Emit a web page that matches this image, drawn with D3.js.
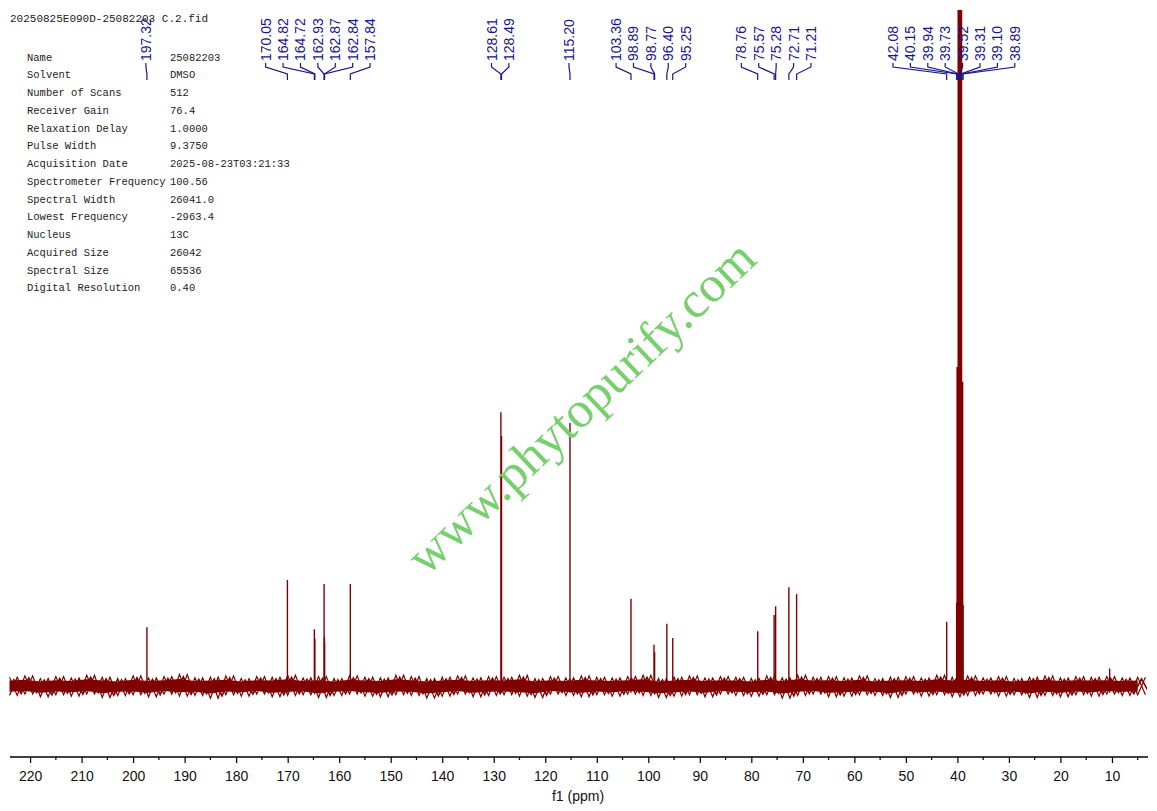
<!DOCTYPE html>
<html>
<head>
<meta charset="utf-8">
<script src="https://cdn.jsdelivr.net/npm/d3@7"></script>
<style>
  html, body { margin: 0; padding: 0; background: #fff; }
  svg { display: block; }
</style>
</head>
<body>
<svg id="chart" width="1157" height="811"></svg>
<script>
// ---------------- data ----------------
const titleText = "20250825E090D-25082203 C.2.fid";
const paramNames = ["Name", "Solvent", "Number of Scans", "Receiver Gain", "Relaxation Delay",
  "Pulse Width", "Acquisition Date", "Spectrometer Frequency", "Spectral Width",
  "Lowest Frequency", "Nucleus", "Acquired Size", "Spectral Size", "Digital Resolution"];
const paramValues = ["25082203", "DMSO", "512", "76.4", "1.0000", "9.3750",
  "2025-08-23T03:21:33", "100.56", "26041.0", "-2963.4", "13C", "26042", "65536", "0.40"];

// peak positions (ppm) and intensities (arbitrary units)
const peakPpm = [197.32, 170.05, 164.82, 164.72, 162.93, 162.87, 162.84, 157.84,
  128.61, 128.49, 115.20, 103.36, 98.89, 98.77, 96.40, 95.25,
  78.76, 75.57, 75.28, 72.71, 71.21, 42.08,
  40.15, 39.94, 39.73, 39.52, 39.31, 39.10, 38.89, 10.45];
const peakHeight = [8.7, 15.7, 8.4, 7.0, 15.1, 7.2, 6.5, 15.1,
  40.5, 37.0, 38.9, 12.9, 6.1, 5.0, 9.2, 7.1,
  8.1, 10.5, 11.8, 14.6, 13.6, 9.5,
  12.3, 47.2, 150, 170, 150, 45, 12.0, 2.6];

// labelled peaks (ppm)
const labelPpm = [197.32, 170.05, 164.82, 164.72, 162.93, 162.87, 162.84, 157.84,
  128.61, 128.49, 115.20, 103.36, 98.89, 98.77, 96.40, 95.25,
  78.76, 75.57, 75.28, 72.71, 71.21,
  42.08, 40.15, 39.94, 39.73, 39.52, 39.31, 39.10, 38.89];

// baseline noise envelope (upper / lower), read roughly every 3 ppm from 224 ppm
const noiseHi = [1.3,1.5,1.1,1.4,1.2,1.6,1.3,1.1,1.5,1.2,1.4,1.7,1.2,1.3,1.5,1.1,1.4,1.3,1.6,1.2,
  1.4,1.1,1.5,1.3,1.2,1.6,1.4,1.1,1.3,1.5,1.2,1.4,1.3,1.6,1.1,1.4,1.2,1.5,1.3,1.2,
  1.4,1.6,1.1,1.3,1.5,1.2,1.4,1.3,1.1,1.5,1.2,1.6,1.3,1.4,1.2,1.5,1.1,1.3,1.4,1.2,
  1.6,1.3,1.5,1.2,1.4,1.1,1.3,1.5,1.2,1.4,1.3,1.4,1.2,1.3];
const noiseLo = [-1.4,-1.2,-1.6,-1.3,-1.5,-1.2,-1.7,-1.4,-1.3,-1.6,-1.2,-1.5,-1.4,-1.8,-1.3,-1.5,-1.2,-1.6,-1.4,-1.3,
  -1.7,-1.4,-1.2,-1.5,-1.6,-1.3,-1.4,-1.8,-1.5,-1.2,-1.6,-1.4,-1.3,-1.5,-1.7,-1.2,-1.4,-1.6,-1.3,-1.5,
  -1.2,-1.4,-1.7,-1.5,-1.3,-1.6,-1.2,-1.4,-1.5,-1.3,-1.8,-1.4,-1.2,-1.6,-1.5,-1.3,-1.4,-1.7,-1.2,-1.5,
  -1.3,-1.6,-1.4,-1.2,-1.5,-1.3,-1.7,-1.4,-1.6,-1.3,-1.5,-1.2,-1.4,-1.3];

const tickMajor = [220,210,200,190,180,170,160,150,140,130,120,110,100,90,80,70,60,50,40,30,20,10];
const axisLabel = "f1 (ppm)";
const watermark = "www.phytopurify.com";

// ---------------- drawing ----------------
const svg = d3.select("#chart");
const W = 1157, H = 811;
svg.append("rect").attr("width", W).attr("height", H).attr("fill", "#fff");

const x = d3.scaleLinear().domain([223.9, 3.0]).range([10, 1148]);
const y = d3.scaleLinear().domain([0, 100]).range([686, 10]);
const specColor = "#800000";
const labelColor = "#16168e";

svg.append("defs").append("clipPath").attr("id", "plotclip")
  .append("rect").attr("x", 9).attr("y", 10).attr("width", 1138).attr("height", 740);

const plot = svg.append("g").attr("clip-path", "url(#plotclip)");

// noise: solid core band plus zig-zag fringe between the envelope readings
const noisePpm = d3.range(224, 2, -3);
const noiseData = noisePpm.map((p, i) => ({p, hi: noiseHi[i], lo: noiseLo[i]}));
plot.append("path")
  .datum(noiseData)
  .attr("d", d3.area().x(d => x(d.p)).y0(d => y(d.lo * 0.62)).y1(d => y(d.hi * 0.62)))
  .attr("fill", specColor);
const zigA = [], zigB = [], zigC = [];
noiseData.forEach((d, i) => {
  zigA.push([x(d.p), y(d.hi)], [x(d.p - 1.5), y(d.lo)]);
  zigB.push([x(d.p), y(d.lo)], [x(d.p - 1.5), y(d.hi)]);
  zigC.push([x(d.p - 0.75), y(d.hi * 0.8)], [x(d.p - 2.25), y(d.lo * 0.8)]);
});
[zigA, zigB, zigC].forEach((z, k) => {
  plot.append("path")
    .attr("d", d3.line()(z))
    .attr("fill", "none")
    .attr("stroke", specColor)
    .attr("stroke-width", k === 2 ? 1.6 : 1.2)
    .attr("stroke-linejoin", "miter");
});

// peaks
const peaks = peakPpm.map((p, i) => ({p, h: peakHeight[i]}));
plot.selectAll("line.peak").data(peaks).join("line")
  .attr("class", "peak")
  .attr("x1", d => x(d.p)).attr("x2", d => x(d.p))
  .attr("y1", y(-1)).attr("y2", d => y(d.h))
  .attr("stroke", specColor)
  .attr("stroke-width", d => d.h > 40 && d.p < 41 ? 2.6 : 1.4);

// watermark
svg.append("text")
  .attr("transform", "translate(581,407) rotate(-43.5)")
  .attr("text-anchor", "middle")
  .attr("dominant-baseline", "central")
  .attr("font-family", "'Liberation Serif', 'Times New Roman', serif")
  .attr("font-size", 51)
  .attr("fill", "#78cf6e")
  .text(watermark);

// x axis
const axisY = 757;
const axisG = svg.append("g").attr("transform", `translate(0,${axisY})`);
axisG.append("line").attr("x1", x.range()[0]).attr("x2", x.range()[1])
  .attr("y1", 0).attr("y2", 0).attr("stroke", "#000").attr("stroke-width", 1.3);
const axis = d3.axisBottom(x).tickValues(tickMajor).tickSize(6).tickFormat(d3.format("d"));
const ag = axisG.append("g").call(axis);
ag.select(".domain").remove();
ag.selectAll(".tick line").attr("stroke", "#000").attr("stroke-width", 1.2);
ag.selectAll(".tick text")
  .attr("font-family", "'Liberation Sans', Arial, sans-serif")
  .attr("font-size", 14).attr("fill", "#111").attr("dy", "1.1em");
const minor = d3.range(215, 4, -10);
axisG.selectAll("line.minor").data(minor).join("line")
  .attr("class", "minor")
  .attr("x1", d => x(d)).attr("x2", d => x(d))
  .attr("y1", 0).attr("y2", 3).attr("stroke", "#000").attr("stroke-width", 1.2);
svg.append("text").attr("x", 578).attr("y", 801)
  .attr("text-anchor", "middle")
  .attr("font-family", "'Liberation Sans', Arial, sans-serif")
  .attr("font-size", 14).attr("fill", "#111").text(axisLabel);

// title and parameter table
const monoFont = "'Liberation Mono', 'DejaVu Sans Mono', monospace";
svg.append("text").attr("x", 10).attr("y", 22)
  .attr("font-family", monoFont).attr("font-size", 11).attr("fill", "#222")
  .text(titleText);
const tbl = svg.append("g");
tbl.selectAll("text.pn").data(paramNames).join("text")
  .attr("class", "pn").attr("x", 27).attr("y", (d, i) => 60.5 + i * 17.75)
  .attr("font-family", monoFont).attr("font-size", 10.5).attr("fill", "#222").text(d => d);
tbl.selectAll("text.pv").data(paramValues).join("text")
  .attr("class", "pv").attr("x", 170).attr("y", (d, i) => 60.5 + i * 17.75)
  .attr("font-family", monoFont).attr("font-size", 10.5).attr("fill", "#222").text(d => d);

// peak labels: cluster, then spread evenly around the cluster midpoint
const spacing = 17.4;
const lab = labelPpm.map(p => ({p, px: x(p)})).sort((a, b) => a.px - b.px);
const groups = [];
lab.forEach(l => {
  const g = groups[groups.length - 1];
  if (g && l.px - g[g.length - 1].px < 40) g.push(l); else groups.push([l]);
});
groups.forEach(g => {
  const mid = (g[0].px + g[g.length - 1].px) / 2 - 1;
  g.forEach((l, i) => { l.lx = mid + (i - (g.length - 1) / 2) * spacing; });
});
const textBottom = 61;
const lg = svg.append("g");
lab.forEach(l => {
  lg.append("text")
    .attr("transform", `translate(${l.lx},${textBottom}) rotate(-90)`)
    .attr("dominant-baseline", "central")
    .attr("font-family", "'Liberation Sans', Arial, sans-serif")
    .attr("font-size", 14)
    .attr("fill", labelColor)
    .text(l.p.toFixed(2));
  const pts = [[l.lx, 63], [l.lx, 67], [l.px, 74], [l.px, 80]];
  lg.append("path")
    .attr("d", d3.line()(pts))
    .attr("fill", "none").attr("stroke", labelColor).attr("stroke-width", 1.2);
});
</script>
</body>
</html>
